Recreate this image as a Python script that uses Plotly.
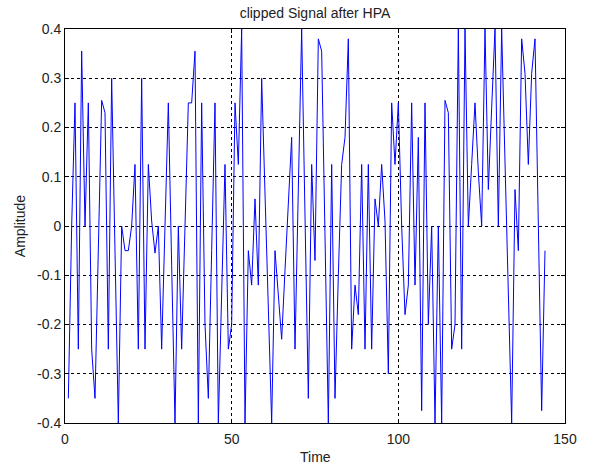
import plotly.graph_objects as go

# sample index (MATLAB plot(y) -> 1..N)
amplitude = [
    -0.35, 0.0, 0.25, -0.25, 0.355, 0.0, 0.25, -0.25, -0.35, -0.05,
    0.255, 0.23, -0.25, 0.3, -0.05, -0.4, 0.0, -0.05, -0.05, 0.0,
    0.125, -0.25, 0.3, -0.25, 0.125, 0.01, -0.055, 0.0, -0.25, 0.0,
    0.25, -0.08, -0.4, 0.0, -0.25, 0.0, 0.25, 0.25, 0.355, -0.4,
    0.25, -0.2, -0.35, -0.05, 0.25, -0.4, -0.14, 0.125, -0.25, -0.2,
    0.25, 0.125, 0.4, -0.4, -0.05, -0.12, 0.055, -0.12, 0.3, 0.07,
    -0.17, -0.4, -0.05, -0.14, -0.23, -0.09, 0.04, 0.18, -0.25, 0.07,
    0.4, 0.02, -0.35, 0.125, -0.07, 0.38, 0.355, -0.02, -0.4, 0.125,
    -0.35, -0.1, 0.125, 0.18, 0.38, -0.25, -0.12, -0.18, 0.125, -0.25,
    0.125, -0.25, 0.055, 0.0, 0.125, 0.01, -0.3, 0.25, 0.125, 0.25,
    0.0, -0.18, -0.12, 0.25, -0.12, 0.18, -0.375, 0.25, -0.2, 0.0,
    -0.4, 0.0, -0.4, 0.255, 0.23, -0.25, -0.2, 0.4, -0.25, 0.4,
    0.0, 0.125, 0.25, 0.11, 0.0, 0.4, 0.074, 0.24, 0.4, 0.0,
    0.4, 0.13, -0.13, -0.4, 0.074, -0.05, 0.38, 0.31, 0.125, 0.31,
    0.38, 0.0, -0.375, -0.05,
]
time = list(range(1, len(amplitude) + 1))

x_ticks = [0, 50, 100, 150]
y_ticks = [-0.4, -0.3, -0.2, -0.1, 0, 0.1, 0.2, 0.3, 0.4]
y_tick_labels = ["-0.4", "-0.3", "-0.2", "-0.1", "0", "0.1", "0.2", "0.3", "0.4"]

FONT = "Liberation Sans, Arial, sans-serif"
FS = 14

fig = go.Figure()
fig.add_trace(go.Scatter(
    x=time, y=amplitude, mode="lines",
    line=dict(color="#0000FF", width=1),
    hoverinfo="skip", showlegend=False,
))

axis_common = dict(
    showline=True, linecolor="black", linewidth=1, mirror="allticks",
    ticks="inside", ticklen=4, tickcolor="black",
    showgrid=True, gridcolor="black", griddash="dot", gridwidth=1,
    zeroline=False,
    tickfont=dict(family=FONT, size=FS, color="#222222"),
)

fig.update_layout(
    width=589, height=467,
    margin=dict(l=65, r=22, t=29, b=44),
    paper_bgcolor="white", plot_bgcolor="white",
    title=dict(
        text="clipped Signal after HPA",
        font=dict(family=FONT, size=FS, color="#222222"),
        x=0.5, xref="paper", xanchor="center",
        y=1 - 13 / 467, yref="container", yanchor="middle",
    ),
    xaxis=dict(range=[0, 150], tickvals=x_ticks, ticklabelstandoff=3,
               **axis_common),
    yaxis=dict(range=[-0.4, 0.4], tickvals=y_ticks, ticktext=y_tick_labels,
               **axis_common),
    annotations=[
        dict(text="Time", xref="paper", yref="paper", x=0.5, y=-34 / 394,
             xanchor="center", yanchor="middle", showarrow=False,
             font=dict(family=FONT, size=FS, color="#222222")),
        dict(text="Amplitude", xref="paper", yref="paper", x=-45 / 502, y=0.5,
             xanchor="center", yanchor="middle", showarrow=False, textangle=-90,
             font=dict(family=FONT, size=FS, color="#222222")),
    ],
)

fig.write_html(
    "out.html",
    config={"displayModeBar": False, "staticPlot": True},
    post_script="document.body.style.margin='0';document.body.style.overflow='hidden';",
)
